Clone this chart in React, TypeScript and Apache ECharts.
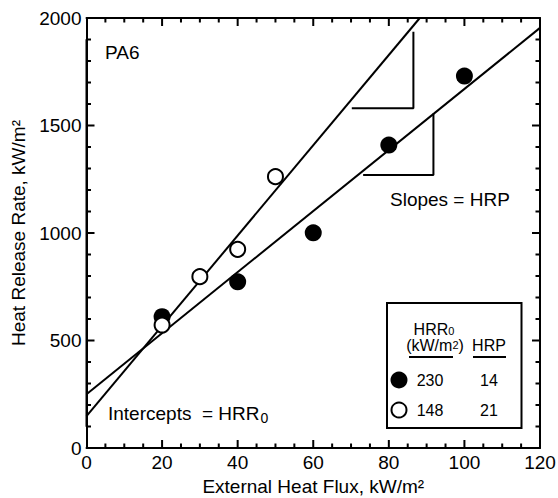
import React, { useEffect, useRef } from 'react';
import * as echarts from 'echarts';

// ---- data ----
const filledFlux = [20, 40, 60, 80, 100];
const filledHRR = [611, 773, 1001, 1409, 1730];
const openFlux = [20, 30, 40, 50];
const openHRR = [572, 797, 924, 1262];
// drawn regression lines: [filled, open]
const fitIntercepts = [250, 148];
const fitSlopes = [14.2, 21];
// slope triangles (data units)
const triSteepX = [70.2, 86.5, 86.5];
const triSteepY = [1580, 1580, 1936];
const triShallowX = [73.2, 91.8, 91.8];
const triShallowY = [1270, 1270, 1556];
// legend table
const legendHRR0 = ['230', '148'];
const legendHRP = ['14', '21'];

const X_MIN = 0, X_MAX = 120, X_INT = 20, X_MINOR = 5;
const Y_MIN = 0, Y_MAX = 2000, Y_INT = 500, Y_MINOR = 100;

const GRID = { left: 86.5, right: 18, top: 18, bottom: 50 };
const W = 558, H = 498;
const MAJOR_PX = 8, MINOR_PX = 4.5;

const FONT = '"Liberation Sans", Arial, Helvetica, sans-serif';

function fitLine(b: number, m: number): number[][] {
  const xEnd = Math.min(X_MAX, (Y_MAX - b) / m);
  return [[X_MIN, b + m * X_MIN], [xEnd, b + m * xEnd]];
}

function zip(xs: number[], ys: number[]): number[][] {
  return xs.map((x, i) => [x, ys[i]]);
}

// inward tick marks as zig-zag paths in data units (drawn through the axes' scales)
function tickPaths() {
  const gw = W - GRID.left - GRID.right;
  const gh = H - GRID.top - GRID.bottom;
  const yPerPx = (Y_MAX - Y_MIN) / gh;
  const xPerPx = (X_MAX - X_MIN) / gw;
  const bottom: number[][] = [], top: number[][] = [], left: number[][] = [], right: number[][] = [];
  for (let v = X_MIN + X_MINOR; v < X_MAX; v += X_MINOR) {
    const L = (v % X_INT === 0 ? MAJOR_PX : MINOR_PX) * yPerPx;
    bottom.push([v, Y_MIN], [v, Y_MIN + L], [v, Y_MIN]);
    top.push([v, Y_MAX], [v, Y_MAX - L], [v, Y_MAX]);
  }
  for (let v = Y_MIN + Y_MINOR; v < Y_MAX; v += Y_MINOR) {
    const L = (v % Y_INT === 0 ? MAJOR_PX : MINOR_PX) * xPerPx;
    left.push([X_MIN, v], [X_MIN + L, v], [X_MIN, v]);
    right.push([X_MAX, v], [X_MAX - L, v], [X_MAX, v]);
  }
  return [bottom, top, left, right];
}

export default function App() {
  const ref = useRef<HTMLDivElement>(null);
  useEffect(() => {
    if (!ref.current) return;
    const chart = echarts.init(ref.current, null, { renderer: 'svg' });
    const black = '#000';
    const axisCommon = (isX: boolean, showLabel: boolean, pos: string) => ({
      type: 'value',
      position: pos,
      min: isX ? X_MIN : Y_MIN,
      max: isX ? X_MAX : Y_MAX,
      interval: isX ? X_INT : Y_INT,
      axisLine: { show: true, onZero: false, lineStyle: { color: black, width: 2 } },
      axisTick: { show: false },
      minorTick: { show: false },
      splitLine: { show: false },
      minorSplitLine: { show: false },
      axisLabel: {
        show: showLabel,
        color: black,
        fontSize: 19,
        fontFamily: FONT,
        margin: 5,
        formatter: (v: number) => String(v),
      },
    });

    const seg = (x1: number, y1: number, x2: number, y2: number, z = 101) => ({
      type: 'line',
      shape: { x1, y1, x2, y2 },
      style: { stroke: black, lineWidth: 2 },
      z,
    });
    const txt = (x: number, y: number, text: string, size: number, align = 'center', rich?: any) => ({
      type: 'text',
      x,
      y,
      z: 101,
      style: {
        text,
        fontSize: size,
        fontFamily: FONT,
        fill: black,
        align,
        verticalAlign: 'middle',
        rich,
      },
    });

    const graphics: any[] = [
      txt(105, 52, 'PA6', 19, 'left'),
      txt(390, 199, 'Slopes = HRP', 19, 'left'),
      txt(108, 413, '{a|Intercepts  = HRR}{b|0}', 19, 'left', {
        a: { fontSize: 19, fontFamily: FONT, fill: black },
        b: { fontSize: 14, fontFamily: FONT, fill: black, verticalAlign: 'bottom', padding: [0, 0, -2, 1] },
      }),
      {
        type: 'rect',
        shape: { x: 387, y: 303, width: 134.5, height: 125 },
        style: { fill: '#fff', stroke: black, lineWidth: 2 },
        z: 100,
      },
      txt(434, 329, '{a|HRR}{b|0}', 16, 'center', {
        a: { fontSize: 16, lineHeight: 15, fontFamily: FONT, fill: black },
        b: { fontSize: 11, lineHeight: 13, fontFamily: FONT, fill: black, verticalAlign: 'bottom' },
      }),
      txt(435, 345, '{a|(kW/m}{b|2}{a|)}', 16, 'center', {
        a: { fontSize: 16, lineHeight: 15, fontFamily: FONT, fill: black },
        b: { fontSize: 11, lineHeight: 13, fontFamily: FONT, fill: black },
      }),
      txt(489, 345, 'HRP', 16, 'center'),
      seg(409, 357, 453, 357),
      seg(473, 357, 506, 357),
      {
        type: 'circle',
        shape: { cx: 399, cy: 380, r: 8.5 },
        style: { fill: black, stroke: black, lineWidth: 0 },
        z: 101,
      },
      {
        type: 'circle',
        shape: { cx: 399, cy: 410, r: 7.5 },
        style: { fill: '#fff', stroke: black, lineWidth: 2 },
        z: 101,
      },
      txt(430, 380, legendHRR0[0], 16),
      txt(489, 380, legendHRP[0], 16),
      txt(430, 410, legendHRR0[1], 16),
      txt(489, 410, legendHRP[1], 16),
    ];

    const blackLine = (data: number[][], z = 2) => ({
      type: 'line',
      data,
      symbol: 'none',
      clip: false,
      silent: true,
      lineStyle: { color: black, width: 2 },
      z,
    });

    chart.setOption({
      animation: false,
      backgroundColor: '#fff',
      grid: { ...GRID, containLabel: false, outerBoundsMode: 'none' },
      xAxis: [
        {
          ...axisCommon(true, true, 'bottom'),
          name: 'External Heat Flux, kW/m²',
          nameLocation: 'middle',
          nameGap: 29,
          nameTextStyle: { color: black, fontSize: 19, fontFamily: FONT },
        },
        { ...axisCommon(true, false, 'top') },
      ],
      yAxis: [
        {
          ...axisCommon(false, true, 'left'),
          name: 'Heat Release Rate, kW/m²',
          nameLocation: 'middle',
          nameGap: 55,
          nameTextStyle: { color: black, fontSize: 19, fontFamily: FONT },
        },
        { ...axisCommon(false, false, 'right') },
      ],
      series: [
        ...tickPaths().map((p) => blackLine(p, 1)),
        { ...blackLine(fitLine(fitIntercepts[0], fitSlopes[0])), clip: true },
        { ...blackLine(fitLine(fitIntercepts[1], fitSlopes[1])), clip: true },
        blackLine(zip(triSteepX, triSteepY)),
        blackLine(zip(triShallowX, triShallowY)),
        {
          type: 'scatter',
          data: zip(filledFlux, filledHRR),
          symbol: 'circle',
          symbolSize: 17,
          itemStyle: { color: black, opacity: 1 },
          z: 3,
        },
        {
          type: 'scatter',
          data: zip(openFlux, openHRR),
          symbol: 'circle',
          symbolSize: 15,
          itemStyle: { color: '#fff', borderColor: black, borderWidth: 2, opacity: 1 },
          z: 3,
        },
      ],
      graphic: graphics,
    });
    return () => chart.dispose();
  }, []);
  return (
    <div
      ref={ref}
      style={{ position: 'fixed', left: 0, top: 0, width: W, height: H, background: '#fff' }}
    />
  );
}
